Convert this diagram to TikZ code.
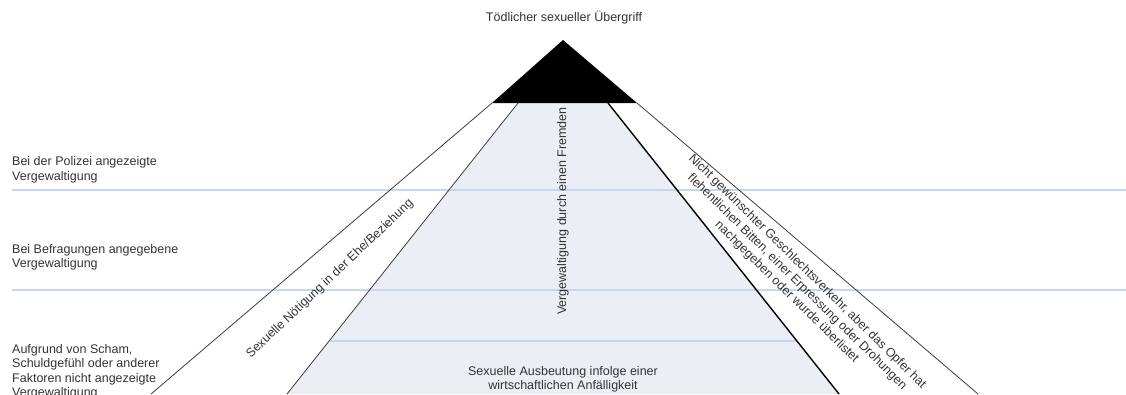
\documentclass[tikz,border=0pt]{standalone}
\usepackage{fontspec}
\setmainfont{Liberation Sans}
\definecolor{txt}{RGB}{51,51,51}
\definecolor{bandfill}{RGB}{235,239,245}
\definecolor{levelblue}{RGB}{197,215,238}
\definecolor{edgegray}{RGB}{60,60,60}
\tikzset{
  lbl/.style={text=txt, inner sep=0pt, font=\fontsize{12.5}{14.5}\selectfont},
  leftlbl/.style={lbl, anchor=west, align=left},
  levelline/.style={draw=levelblue, line width=2pt},
  outeredge/.style={draw=edgegray, line width=0.8pt},
  inneredge/.style={draw=edgegray, line width=0.8pt},
  strongedge/.style={draw=black, line width=1.4pt}
}
\begin{document}
\begin{tikzpicture}[x=1pt,y=-1pt]
\useasboundingbox (0,0) rectangle (1126,394);
% key points
\coordinate (apex) at (563,40);
\coordinate (bl) at (492,103);
\coordinate (br) at (637,103);
\coordinate (il) at (518,103);
\coordinate (ir) at (608,103);
\coordinate (olb) at (151,394);
\coordinate (orb) at (978,394);
\coordinate (ilb) at (287,394);
\coordinate (irb) at (839,394);
\coordinate (l1a) at (12,190);
\coordinate (l1b) at (1126,190);
\coordinate (l2a) at (12,290);
\coordinate (l2b) at (1126,290);
\coordinate (l3a) at (329.5,341);
\coordinate (l3b) at (796.5,341);
% central band fill
\fill[bandfill] (il) -- (ir) -- (irb) -- (ilb) -- cycle;
% level lines
\draw[levelline] (l1a) -- (l1b);
\draw[levelline] (l2a) -- (l2b);
\draw[levelline] (l3a) -- (l3b);
% top triangle
\fill[black] (apex) -- (br) -- (bl) -- cycle;
% edges
\draw[outeredge] (bl) -- (olb);
\draw[outeredge] (br) -- (orb);
\draw[inneredge] (il) -- (ilb);
\draw[strongedge] (ir) -- (irb);
% labels
\node[lbl] (top) at (564,18) {Tödlicher sexueller Übergriff};
\node[leftlbl] (police) at (12,170) {Bei der Polizei angezeigte\\Vergewaltigung};
\node[leftlbl] (survey) at (12,257.5) {Bei Befragungen angegebene\\Vergewaltigung};
\node[leftlbl] (unreported) at (12,372) {Aufgrund von Scham,\\Schuldgefühl oder anderer\\Faktoren nicht angezeigte\\Vergewaltigung};
\node[lbl, rotate=90] (stranger) at (563,211) {Vergewaltigung durch einen Fremden};
\node[lbl, rotate=43.5] (marriage) at (330,279) {Sexuelle Nötigung in der Ehe/Beziehung};
\node[lbl, rotate=-44.5, align=center] (unwanted) at (797,282) {Nicht gewünschter Geschlechtsverkehr, aber das Opfer hat\\flehentlichen Bitten, einer Erpressung oder Drohungen\\nachgegeben oder wurde überlistet};
\node[lbl, align=center] (exploit) at (563,379.5) {Sexuelle Ausbeutung infolge einer\\wirtschaftlichen Anfälligkeit};
\end{tikzpicture}
\end{document}
